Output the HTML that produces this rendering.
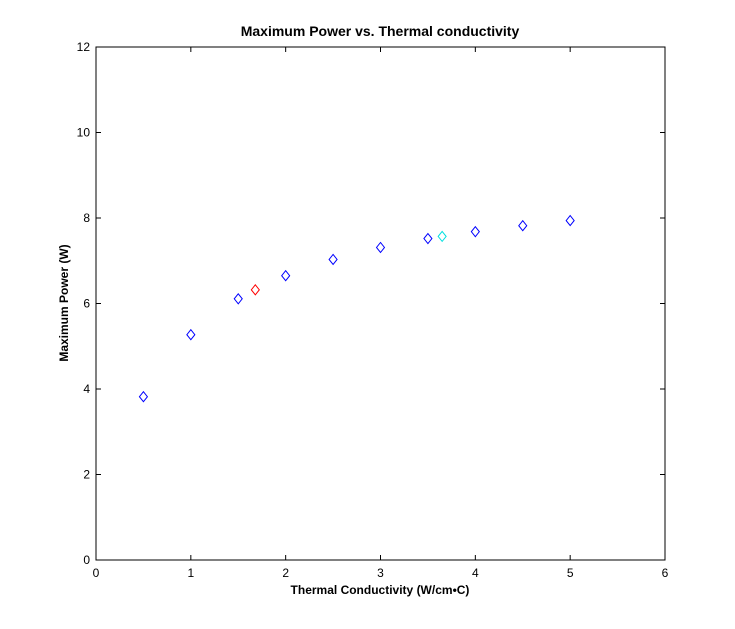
<!DOCTYPE html>
<html><head><meta charset="utf-8"><style>
body{margin:0;background:#fff;}
svg{display:block;font-family:"Liberation Sans",Arial,sans-serif;}
</style></head><body>
<svg id="chart" width="735" height="629" xmlns="http://www.w3.org/2000/svg">
<rect x="0" y="0" width="735" height="629" fill="#fff"/>
<rect x="96" y="47" width="569" height="513" fill="#fff" stroke="#000" stroke-width="1"/>
<text x="380" y="36" text-anchor="middle" font-size="14" font-weight="bold">Maximum Power vs. Thermal conductivity</text>
<text x="380" y="594" text-anchor="middle" font-size="12" font-weight="bold">Thermal Conductivity (W/cm•C)</text>
<text transform="translate(68,303) rotate(-90)" text-anchor="middle" font-size="12" font-weight="bold">Maximum Power (W)</text>
<g id="ticks"></g>
<g id="points"></g>
</svg>
<script>
const xTicks=[0,1,2,3,4,5,6];
const yTicks=[0,2,4,6,8,10,12];
const xVals=[0.5,1,1.5,2,2.5,3,3.5,4,4.5,5];
const yVals=[3.82,5.27,6.11,6.65,7.03,7.31,7.52,7.68,7.82,7.94];
const redX=[1.68], redY=[6.32];
const cyanX=[3.65], cyanY=[7.57];
const L=96,R=665,T=47,B=560;
const sx=v=>L+(v-0)/(6-0)*(R-L);
const sy=v=>B-(v-0)/(12-0)*(B-T);
const NS="http://www.w3.org/2000/svg";
const tg=document.getElementById('ticks');
function mk(tag,attrs,parent){const e=document.createElementNS(NS,tag);for(const k in attrs)e.setAttribute(k,attrs[k]);parent.appendChild(e);return e;}
xTicks.forEach(t=>{const x=sx(t);
 let l=mk('line',{x1:x,x2:x,y1:B,y2:B-5,stroke:'#000'},tg);
 
 
 let l2=mk('line',{x1:x,x2:x,y1:T,y2:T+5,stroke:'#000'},tg);
 
 
 let tx=mk('text',{x:x,y:B+17,'text-anchor':'middle','font-size':'12'},tg);tx.textContent=t;
 
 
});
yTicks.forEach(t=>{const y=sy(t);
 let l=mk('line',{x1:L,x2:L+5,y1:y,y2:y,stroke:'#000'},tg);
 
 
 let l2=mk('line',{x1:R,x2:R-5,y1:y,y2:y,stroke:'#000'},tg);
 
 
 let tx=mk('text',{x:L-6,y:y+4,'text-anchor':'end','font-size':'12'},tg);tx.textContent=t;
 
 
});
const pg=document.getElementById('points');
function diamond(x,y,c,name){const px=sx(x),py=sy(y);
 const p=mk('polygon',{points:`${px},${py-5} ${px+4},${py} ${px},${py+5} ${px-4},${py}`,fill:'none',stroke:c,'stroke-width':'1'},pg);
 
 
}
xVals.forEach((x,i)=>diamond(x,yVals[i],'#0000ff','data-point'));
redX.forEach((x,i)=>diamond(x,redY[i],'#ff0000','red-point'));
cyanX.forEach((x,i)=>diamond(x,cyanY[i],'#00e0e0','cyan-point'));
</script>
</body></html>
